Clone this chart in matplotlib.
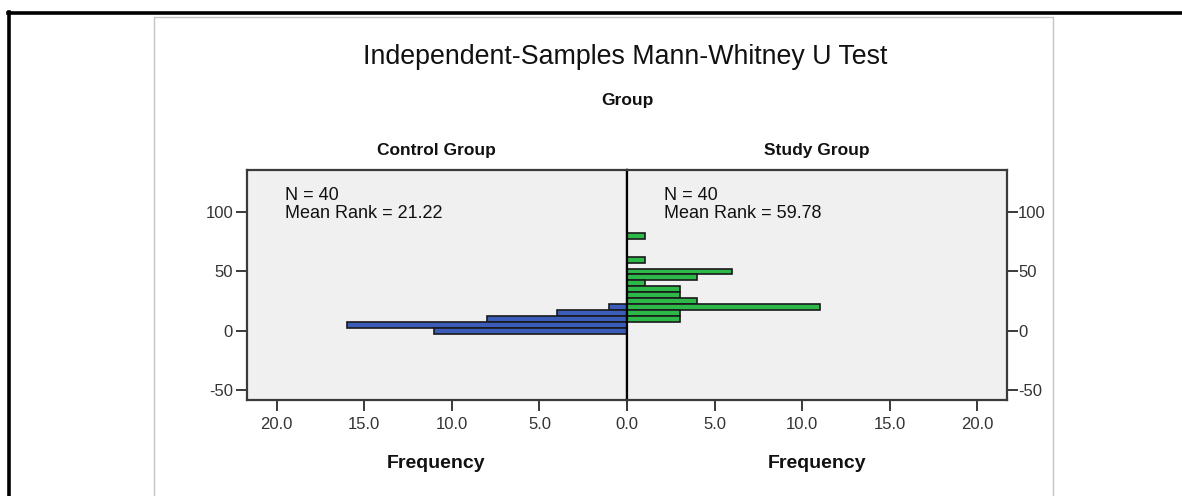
import matplotlib.pyplot as plt
from matplotlib.lines import Line2D

plt.rcParams['font.family'] = ['Liberation Sans', 'DejaVu Sans']
plt.rcParams['axes.unicode_minus'] = False

# data (bin centres of the test score, frequency per bin)
control_bins = [20, 15, 10, 5, 0]
control_freq = [1, 4, 8, 16, 11]
study_bins = [80, 60, 50, 45, 40, 35, 30, 25, 20, 15, 10]
study_freq = [1, 1, 6, 4, 1, 3, 3, 4, 11, 3, 3]
groups = ['Control Group', 'Study Group']
n_labels = ['N = 40', 'N = 40']
rank_labels = ['Mean Rank = 21.22', 'Mean Rank = 59.78']
y_ticks = [-50, 0, 50, 100]
x_ticks = [0, 5, 10, 15, 20]

W, H = 1182, 496
fig = plt.figure(figsize=(W / 100, H / 100), dpi=100)
fig.patch.set_facecolor('white')


def fx(px):
    return px / W


def fy(py):
    return 1 - py / H


# frame lines
fig.add_artist(Line2D([fx(9), fx(9)], [fy(12), fy(500)], color='black', lw=2.6))
fig.add_artist(Line2D([fx(8), fx(1190)], [fy(13), fy(13)], color='black', lw=2.6))
fig.add_artist(Line2D([fx(154), fx(154), fx(1053), fx(1053)],
                      [fy(500), fy(16.5), fy(16.5), fy(500)], color='#c4c4c4', lw=1.0))

bottom, height = fy(400), (400 - 170) / H
ax_l = fig.add_axes([fx(247), bottom, fx(380), height])
ax_r = fig.add_axes([fx(627), bottom, fx(380), height])

blue = '#3b5cb8'
green = '#2fb84a'
ax_l.barh(control_bins, control_freq, height=5, color=blue, edgecolor='#1a1a1a', lw=1.2)
ax_r.barh(study_bins, study_freq, height=5, color=green, edgecolor='#1a1a1a', lw=1.2)

xmax = 21.7
ax_l.set_xlim(xmax, 0)
ax_r.set_xlim(0, xmax)

for ax in (ax_l, ax_r):
    ax.set_facecolor('#f0f0f0')
    ax.set_ylim(-58, 135.3)
    ax.set_yticks(y_ticks)
    ax.set_xticks(x_ticks)
    for s in ax.spines.values():
        s.set_color('#3a3a3a')
        s.set_linewidth(1.6)
    ax.tick_params(length=8, width=1.4, color='#3a3a3a', labelsize=12, labelcolor='#333333', pad=2)
    ax.tick_params(axis='x', pad=4)

# the shared 0.0 label is drawn only once
ax_l.set_xticklabels(['' if v == 0 else '%.1f' % v for v in x_ticks])
ax_r.set_xticklabels(['%.1f' % v for v in x_ticks])

ax_l.spines['right'].set_color('black')
ax_r.spines['left'].set_color('black')
ax_l.tick_params(axis='y', left=True, right=False)
ax_r.tick_params(axis='y', left=False, right=True, labelleft=False, labelright=True, pad=0)

# texts
fig.text(fx(625), fy(57), 'Independent-Samples Mann-Whitney U Test',
         ha='center', va='center', fontsize=19.3, color='#111111')
fig.text(fx(627), fy(101), 'Group', ha='center', va='center', fontsize=12.5,
         fontweight='bold', color='#111111')
for cx, g in zip([436, 817], groups):
    fig.text(fx(cx), fy(150), g, ha='center', va='center', fontsize=12.5,
             fontweight='bold', color='#111111')
    fig.text(fx(cx), fy(464), 'Frequency', ha='center', va='center', fontsize=14,
             fontweight='bold', color='#111111')
for tx, n, r in zip([285, 664], n_labels, rank_labels):
    fig.text(fx(tx), fy(196), n, ha='left', va='center', fontsize=13, color='#111111')
    fig.text(fx(tx), fy(214), r, ha='left', va='center', fontsize=13, color='#111111')

fig.savefig('out.png', dpi=100)
